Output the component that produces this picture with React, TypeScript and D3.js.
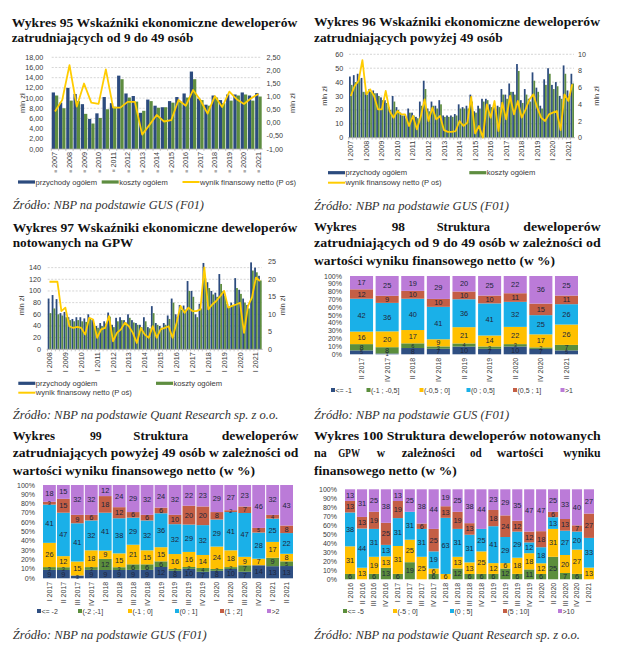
import * as d3 from 'd3'
import React from 'react'

const W = 624
const H = 663
const SANS = "'Liberation Sans', Arial, sans-serif"
const SERIF = "'Liberation Serif', 'Times New Roman', serif"

const BLUE = '#2c4b7e'
const GREEN = '#5e8d40'
const YELLOW = '#ffcc00'
const NAVY = '#2f4f82'
const LGREEN = '#5b8e3c'
const GOLD = '#ffc000'
const CYAN = '#1ab0e8'
const RUST = '#c45e45'
const VIOLET = '#bb7bd8'
const INK = '#3a3a3a'

// Wykres 95: half-years 2007-2021
const w95Years = ['2007', '2008', '2009', '2010', '2011', '2012', '2013', '2014', '2015', '2016', '2017', '2018', '2019', '2020', '2021']
const w95Periods = w95Years.flatMap(y => (y === '2021' ? ['I'] : ['I', 'II']).map(h => `${h} ${y}`))
const w95Revenue = [11.1, 9.1, 12.0, 10.8, 8.8, 5.9, 7.0, 10.2, 9.0, 14.4, 10.9, 10.4, 7.1, 9.7, 8.5, 8.2, 9.4, 10.2, 10.9, 15.2, 9.9, 8.7, 10.5, 9.6, 10.7, 10.7, 11.1, 10.5, 11.0]
const w95Costs = [10.5, 8.0, 9.5, 9.4, 6.9, 5.0, 6.1, 7.8, 8.3, 13.7, 10.1, 9.3, 7.5, 9.4, 8.1, 8.2, 9.1, 9.2, 10.1, 13.7, 9.6, 8.5, 10.1, 9.0, 9.5, 10.5, 10.7, 9.5, 10.3]
const w95Result = [0.43, 0.87, 2.2, 0.62, 1.5, 0.77, 0.72, 2.04, 0.58, 0.58, 0.8, 0.8, -0.45, -0.08, 0.3, 0.05, 0.1, 0.87, 0.65, 1.25, 0.87, 0.35, 1.02, 0.6, 1.19, 0.9, 0.72, 0.94, 1.1]
const w95LeftTicks = [0, 2, 4, 6, 8, 10, 12, 14, 16, 18]
const w95RightTicks = [-1, -0.5, 0, 0.5, 1, 1.5, 2, 2.5]

// Wykres 96: quarters 2007-2021
const quarters = (years: string[]) =>
  years.flatMap(y => (y === '2021' ? ['I', 'II'] : ['I', 'II', 'III', 'IV']).map(q => `${q} ${y}`))
const w96Periods = quarters(w95Years)
const w96Revenue = [44, 45, 46, 43, 33, 35, 34, 32, 29, 27, 22, 30, 22, 18, 16, 21, 18, 15, 26, 41, 21, 26, 23, 27, 16, 16, 16, 17, 24, 22, 23, 31, 19, 23, 28, 28, 24, 22, 23, 35, 31, 39, 33, 53, 27, 35, 28, 47, 36, 23, 42, 50, 38, 40, 30, 52, 34, 46]
const w96Costs = [38, 40, 42, 33, 31, 33, 32, 30, 27, 25, 20, 26, 20, 16, 14, 18, 16, 14, 23, 35, 19, 23, 21, 24, 15, 15, 15, 16, 21, 21, 21, 26, 18, 21, 26, 27, 22, 21, 22, 31, 28, 33, 31, 48, 25, 31, 26, 41, 33, 21, 38, 46, 35, 37, 28, 46, 30, 39]
const w96Result = [5.0, 6.2, 6.8, 9.3, 5.2, 5.8, 5.0, 3.4, 3.4, 5.6, 3.2, 2.4, 3.2, 2.8, 2.8, 1.4, 2.6, 1.0, 2.5, 4.6, 2.0, 3.6, 2.2, 2.6, 0.9, 0.7, 0.7, 0.8, 2.0, 1.4, 1.8, 4.9, 0.5, 1.4, 0.0, 4.0, 2.4, 4.4, 0.8, 4.2, 2.2, 5.0, 2.8, 4.4, 2.4, 3.4, 4.6, 5.2, 3.6, 2.4, 2.0, 2.8, 3.0, 3.2, 0.9, 5.2, 4.4, 6.4]
const w96LeftTicks = [0, 10, 20, 30, 40, 50, 60]
const w96RightTicks = [0, 2, 4, 6, 8, 10]

// Wykres 97: quarters 2008-2021
const w97Periods = quarters(w95Years.slice(1))
const w97Revenue = [87, 93, 86, 62, 64, 55, 52, 55, 55, 53, 60, 50, 40, 45, 48, 63, 42, 54, 55, 50, 60, 50, 45, 42, 55, 38, 74, 45, 40, 45, 58, 87, 60, 76, 75, 117, 100, 60, 78, 148, 115, 100, 97, 129, 100, 78, 80, 122, 102, 87, 76, 149, 140, 126]
const w97Costs = [62, 70, 60, 58, 55, 50, 48, 50, 48, 47, 52, 45, 37, 40, 44, 56, 38, 48, 50, 46, 54, 46, 42, 38, 48, 36, 62, 42, 37, 42, 52, 80, 55, 68, 68, 100, 90, 55, 70, 122, 105, 94, 90, 112, 92, 72, 75, 105, 95, 80, 70, 135, 132, 118]
const w97Result = [19.3, 19.3, 19.3, 10.9, 11.9, 6.6, 6.1, 6.4, 6.1, 4.2, 9.0, 8.5, 3.3, 5.7, 6.1, 9.5, 2.3, 4.7, 5.7, 7.6, 6.6, 4.7, 1.8, 6.1, 4.2, 3.3, 6.6, 3.3, 5.7, 6.1, 6.6, 3.3, 7.5, 12.4, 10.4, 11.9, 10.9, 10.9, 11.4, 23.4, 11.4, 12.8, 13.8, 15.2, 16.7, 11.9, 12.4, 12.8, 13.3, 4.7, 12.4, 14.8, 20.5, 19.5]
const w97LeftTicks = [0, 20, 40, 60, 80, 100, 120, 140]
const w97RightTicks = [0, 5, 10, 15, 20, 25]

// Wykres 98: structure, 9 to 49 employees
const w98Cats = ['II 2017', 'IV 2017', 'II 2018', 'IV 2018', 'II 2019', 'IV 2019', 'II 2020', 'IV 2020', 'II 2021']
const w98Le1 = [5, 1, 8, 7, 10, 7, 10, 7, 5]
const w98M1 = [8, 8, 6, 3, 4, 3, 3, 2, 7]
const w98M05 = [16, 20, 17, 9, 21, 14, 22, 17, 26]
const w98P05 = [42, 36, 40, 41, 36, 41, 32, 25, 26]
const w98P1 = [12, 9, 10, 10, 10, 10, 11, 15, 11]
const w98Gt1 = [17, 25, 19, 29, 20, 25, 22, 36, 25]

// Wykres 99: structure, above 49 employees
const w99Cats = ['I 2017', 'II 2017', 'III 2017', 'IV 2017', 'I 2018', 'II 2018', 'III 2018', 'IV 2018', 'I 2019', 'II 2019', 'III 2019', 'IV 2019', 'I 2020', 'II 2020', 'III 2020', 'IV 2020', 'I 2021', 'II 2021']
const w99Le2 = [9, 9, 3, 9, 9, 9, 9, 9, 12, 8, 10, 7, 8, 10, 7, 14, 13, 13]
const w99M2 = [3, 3, 0, 3, 12, 3, 6, 6, 6, 2, 2, 4, 2, 2, 7, 0, 9, 5]
const w99M1 = [26, 12, 15, 18, 9, 15, 21, 15, 15, 16, 16, 14, 24, 18, 9, 7, 17, 8]
const w99P1 = [41, 47, 41, 32, 41, 38, 29, 32, 36, 32, 29, 32, 29, 41, 47, 28, 25, 22]
const w99P2 = [3, 15, 9, 6, 18, 12, 6, 6, 6, 10, 20, 20, 8, 2, 7, 5, 4, 8]
const w99Gt2 = [18, 15, 32, 32, 12, 24, 29, 32, 24, 32, 22, 23, 29, 27, 23, 46, 32, 43]

// Wykres 100: structure, GPW listed
const w100Cats = ['I 2016', 'II 2016', 'III 2016', 'IV 2016', 'I 2017', 'II 2017', 'III 2017', 'IV 2017', 'I 2018', 'II 2018', 'III 2018', 'IV 2018', 'I 2019', 'II 2019', 'III 2019', 'IV 2019', 'I 2020', 'II 2020', 'III 2020', 'IV 2020', 'I 2021']
const w100Le5 = [6, 0, 6, 13, 6, 19, 0, 6, 0, 12, 6, 6, 6, 12, 6, 11, 6, 25, 7, 6, 0]
const w100M5 = [31, 13, 19, 13, 31, 25, 25, 6, 6, 13, 13, 25, 12, 6, 18, 18, 12, 31, 20, 27, 13]
const w100P5 = [38, 44, 31, 13, 31, 31, 31, 19, 63, 31, 31, 25, 41, 29, 29, 12, 18, 13, 27, 20, 33]
const w100P10 = [13, 13, 19, 25, 19, 0, 6, 25, 13, 19, 13, 0, 18, 24, 12, 12, 18, 6, 13, 7, 27]
const w100Gt10 = [13, 31, 25, 38, 13, 25, 38, 44, 19, 25, 38, 44, 23, 29, 35, 47, 47, 25, 33, 40, 27]

const fmt2 = (v: number) => v.toFixed(2).replace('.', ',')
const fmt0 = (v: number) => String(v)

type ComboProps = {
  periods: string[]
  rev: number[]
  cost: number[]
  res: number[]
  x0: number; x1: number; yT: number; yB: number
  lMax: number; lTicks: number[]; lFmt: (v: number) => string; lLabX: number
  rMin: number; rMax: number; rTicks: number[]; rFmt: (v: number) => string; rLabX: number
  mlnL: number; mlnR: number
  box?: boolean
}

function Combo(p: ComboProps) {
  const x = d3.scaleBand<string>().domain(p.periods).range([p.x0, p.x1]).paddingInner(0.1)
  const yl = d3.scaleLinear().domain([0, p.lMax]).range([p.yB, p.yT])
  const yr = d3.scaleLinear().domain([p.rMin, p.rMax]).range([p.yB, p.yT])
  const half = x.bandwidth() / 2
  const cx = (c: string) => (x(c) ?? 0) + x.bandwidth() / 2
  const path = d3.line<number>().x((_, i) => cx(p.periods[i])).y(v => yr(v))(p.res) ?? ''
  const gap = x.step() * 0.05
  const midY = (p.yT + p.yB) / 2
  return (
    <g fontFamily={SANS} fill={INK}>
      {p.lTicks.filter(t => t > 0).map(t => (
        <line key={'g' + t} x1={p.x0} x2={p.x1} y1={yl(t)} y2={yl(t)} stroke="#c4c4c4" strokeWidth={0.7} strokeDasharray="2,1.5" />
      ))}
      {p.periods.map((c, i) => (
        <g key={c}>
          <rect x={x(c)} y={yl(p.rev[i])} width={half} height={p.yB - yl(p.rev[i])} fill={BLUE} />
          <rect x={(x(c) ?? 0) + half} y={yl(p.cost[i])} width={half} height={p.yB - yl(p.cost[i])} fill={GREEN} />
        </g>
      ))}
      <line x1={p.x0 - 1} x2={p.x1 + 1} y1={p.yB} y2={p.yB} stroke="#a6a6a6" strokeWidth={0.8} />
      {p.periods.map(c => (
        <line key={'t' + c} x1={(x(c) ?? 0) - gap} x2={(x(c) ?? 0) - gap} y1={p.yB} y2={p.yB + 2} stroke="#a6a6a6" strokeWidth={0.6} />
      ))}
      <path d={path} fill="none" stroke={YELLOW} strokeWidth={1.8} strokeLinejoin="round" />
      {p.lTicks.map(t => (
        <text key={'l' + t} x={p.lLabX} y={yl(t)} textAnchor="end" dominantBaseline="central" fontSize={7.2}>{p.lFmt(t)}</text>
      ))}
      {p.rTicks.map(t => (
        <text key={'r' + t} x={p.rLabX} y={yr(t)} dominantBaseline="central" fontSize={7.2}>{p.rFmt(t)}</text>
      ))}
      {p.periods.filter(c => c.startsWith('I ')).map(c => (
        <text key={'x' + c} transform={`translate(${cx(c)},${p.yB + 3}) rotate(-90)`} textAnchor="end" dominantBaseline="central" fontSize={7.2}>
          {p.box ? <><tspan fill="#aaaaaa" fontSize={5}>■</tspan>{' ' + c.slice(2)}</> : c}
        </text>
      ))}
      <text transform={`translate(${p.mlnL},${midY}) rotate(-90)`} textAnchor="middle" dominantBaseline="central" fontSize={7.5}>mln zł</text>
      <text transform={`translate(${p.mlnR},${midY}) rotate(-90)`} textAnchor="middle" dominantBaseline="central" fontSize={7.5}>mln zł</text>
    </g>
  )
}

const comboNames = { rev: 'przychody ogółem', cost: 'koszty ogółem', res: 'wynik finansowy netto (P oś)' }

function ComboLegend({ items }: { items: { kind: 'rev' | 'cost' | 'res'; x: number; y: number }[] }) {
  return (
    <g fontFamily={SANS} fill={INK} fontSize={7.6}>
      {items.map(it => (
        <g key={it.kind}>
          {it.kind === 'res'
            ? <line x1={it.x} x2={it.x + 17} y1={it.y} y2={it.y} stroke={YELLOW} strokeWidth={2} />
            : <rect x={it.x} y={it.y - 1.6} width={17} height={3.2} fill={it.kind === 'rev' ? BLUE : GREEN} />}
          <text x={it.x + 17.5} y={it.y} dominantBaseline="central">{comboNames[it.kind]}</text>
        </g>
      ))}
    </g>
  )
}

type Series = { name: string; color: string; values: number[] }

type StackProps = {
  cats: string[]; series: Series[]
  x0: number; x1: number; yT: number; yB: number; labX: number; pad: number
  legendY: number; legendXs: number[]
}

function Stack(p: StackProps) {
  const keys = p.series.map(s => s.name)
  const rows = p.cats.map((_, i) => {
    const r: Record<string, number> = {}
    p.series.forEach(s => { r[s.name] = s.values[i] })
    return r
  })
  const layers = d3.stack<Record<string, number>>().keys(keys).offset(d3.stackOffsetExpand)(rows)
  const x = d3.scaleBand<string>().domain(p.cats).range([p.x0, p.x1]).paddingInner(p.pad)
  const y = d3.scaleLinear().domain([0, 1]).range([p.yB, p.yT])
  const ticks = y.ticks(10)
  return (
    <g fontFamily={SANS} fill={INK}>
      {layers.map((layer, li) => layer.map((d, i) => (
        <rect key={li + '-' + i} x={x(p.cats[i])} y={y(d[1])} width={x.bandwidth()} height={Math.max(0, y(d[0]) - y(d[1]))} fill={p.series[li].color} />
      )))}
      {layers.map((layer, li) => layer.map((d, i) => {
        const v = p.series[li].values[i]
        if (!v) return null
        const small = y(d[0]) - y(d[1]) < 5
        return (
          <text key={'v' + li + '-' + i} x={(x(p.cats[i]) ?? 0) + x.bandwidth() / 2} y={y((d[0] + d[1]) / 2)} textAnchor="middle" dominantBaseline="central" fontSize={small ? 5.6 : 7.4} fill="#20263a">{v}</text>
        )
      }))}
      {ticks.map(t => (
        <text key={'y' + t} x={p.labX} y={y(t)} textAnchor="end" dominantBaseline="central" fontSize={7}>{Math.round(t * 100)}%</text>
      ))}
      {p.cats.map(c => (
        <text key={'x' + c} transform={`translate(${(x(c) ?? 0) + x.bandwidth() / 2},${p.yB + 3.5}) rotate(-90)`} textAnchor="end" dominantBaseline="central" fontSize={7}>{c}</text>
      ))}
      {p.series.map((s, i) => (
        <g key={'lg' + s.name}>
          <rect x={p.legendXs[i]} y={p.legendY - 2} width={4} height={4} fill={s.color} />
          <text x={p.legendXs[i] + 4.5} y={p.legendY} dominantBaseline="central" fontSize={7}>{s.name}</text>
        </g>
      ))}
    </g>
  )
}

function TLine({ x0, x1, y, children }: { x0: number; x1: number; y: number; children: string }) {
  return (
    <text x={x0} y={y} textLength={x1 - x0} lengthAdjust="spacingAndGlyphs" fontFamily={SERIF} fontWeight="bold" fontSize={13.2} fill="#111">{children}</text>
  )
}

function Words({ y, words }: { y: number; words: [string, number, number][] }) {
  return <g>{words.map(([w, a, b]) => <TLine key={w + a} x0={a} x1={b} y={y}>{w}</TLine>)}</g>
}

function Source({ x0, x1, y, children }: { x0: number; x1: number; y: number; children: string }) {
  return (
    <text x={x0} y={y} textLength={x1 - x0} lengthAdjust="spacingAndGlyphs" fontFamily={SERIF} fontStyle="italic" fontSize={12.3} fill="#333">{children}</text>
  )
}

export default function App() {
  return (
    <svg width={W} height={H} viewBox={`0 0 ${W} ${H}`} style={{ position: 'absolute', left: 0, top: 0, background: '#fff' }}>
      <rect width={W} height={H} fill="#fff" />

      {/* Wykres 95 */}
      <TLine x0={11.7} x1={297.3} y={26.5}>Wykres 95 Wskaźniki ekonomiczne deweloperów</TLine>
      <TLine x0={11.7} x1={193.3} y={42}>zatrudniających od 9 do 49 osób</TLine>
      <Combo periods={w95Periods} rev={w95Revenue} cost={w95Costs} res={w95Result}
        x0={51.7} x1={261.7} yT={57.3} yB={149}
        lMax={18} lTicks={w95LeftTicks} lFmt={fmt2} lLabX={43.3}
        rMin={-1} rMax={2.5} rTicks={w95RightTicks} rFmt={fmt2} rLabX={266.5}
        mlnL={22} mlnR={292} box />
      <ComboLegend items={[{ kind: 'rev', x: 18, y: 182 }, { kind: 'cost', x: 101.7, y: 182 }, { kind: 'res', x: 182.5, y: 182 }]} />
      <Source x0={12.7} x1={204} y={209}>Źródło: NBP na podstawie GUS (F01)</Source>

      {/* Wykres 96 */}
      <TLine x0={314} x1={600} y={26}>Wykres 96 Wskaźniki ekonomiczne deweloperów</TLine>
      <TLine x0={314} x1={502.7} y={41.5}>zatrudniających powyżej 49 osób</TLine>
      <Combo periods={w96Periods} rev={w96Revenue} cost={w96Costs} res={w96Result}
        x0={349} x1={574} yT={54.3} yB={137.7}
        lMax={60} lTicks={w96LeftTicks} lFmt={fmt0} lLabX={343.3}
        rMin={0} rMax={10} rTicks={w96RightTicks} rFmt={fmt0} rLabX={578}
        mlnL={324} mlnR={596} />
      <ComboLegend items={[{ kind: 'rev', x: 328, y: 172.7 }, { kind: 'cost', x: 469.3, y: 172.7 }, { kind: 'res', x: 328, y: 182.7 }]} />
      <Source x0={314} x1={509} y={209.5}>Źródło: NBP na podstawie GUS (F01)</Source>

      {/* Wykres 97 */}
      <TLine x0={12.7} x1={297.3} y={232}>Wykres 97 Wskaźniki ekonomiczne deweloperów</TLine>
      <TLine x0={12.7} x1={133.3} y={247}>notowanych na GPW</TLine>
      <Combo periods={w97Periods} rev={w97Revenue} cost={w97Costs} res={w97Result}
        x0={47.7} x1={261.7} yT={261.8} yB={349.3}
        lMax={150} lTicks={w97LeftTicks} lFmt={fmt0} lLabX={41}
        rMin={0} rMax={25} rTicks={w97RightTicks} rFmt={fmt0} rLabX={268}
        mlnL={21.7} mlnR={282.7} />
      <ComboLegend items={[{ kind: 'rev', x: 18.3, y: 383.3 }, { kind: 'cost', x: 156, y: 383.3 }, { kind: 'res', x: 18.3, y: 392.7 }]} />
      <Source x0={12.7} x1={278.3} y={418.5}>Źródło: NBP na podstawie Quant Research sp. z o.o.</Source>

      {/* Wykres 98 */}
      <Words y={230.5} words={[['Wykres', 314, 356.7], ['98', 391.7, 405], ['Struktura', 436.7, 490], ['deweloperów', 523.3, 600.7]]} />
      <TLine x0={314} x1={600.7} y={247}>zatrudniających od 9 do 49 osób w zależności od</TLine>
      <TLine x0={314} x1={555} y={265}>wartości wyniku finansowego netto (w %)</TLine>
      <Stack cats={w98Cats}
        series={[
          { name: '<= -1', color: NAVY, values: w98Le1 },
          { name: '(-1 ; -0,5]', color: LGREEN, values: w98M1 },
          { name: '(-0,5 ; 0]', color: GOLD, values: w98M05 },
          { name: '(0 ; 0,5]', color: CYAN, values: w98P05 },
          { name: '(0,5 ; 1]', color: RUST, values: w98P1 },
          { name: '>1', color: VIOLET, values: w98Gt1 },
        ]}
        x0={350} x1={578} yT={276} yB={354.3} labX={342} pad={0.1}
        legendY={390} legendXs={[331, 366.5, 419.5, 466.5, 513, 560.5]} />
      <Source x0={314} x1={509.3} y={418.5}>Źródło: NBP na podstawie GUS (F01)</Source>

      {/* Wykres 99 */}
      <Words y={440} words={[['Wykres', 12.7, 55], ['99', 90, 101.7], ['Struktura', 133.3, 188.3], ['deweloperów', 221.7, 298.3]]} />
      <TLine x0={12.7} x1={298.3} y={457}>zatrudniających powyżej 49 osób w zależności od</TLine>
      <TLine x0={12.7} x1={255} y={475}>wartości wyniku finansowego netto (w %)</TLine>
      <Stack cats={w99Cats}
        series={[
          { name: '<= -2', color: NAVY, values: w99Le2 },
          { name: '(-2 ;-1]', color: LGREEN, values: w99M2 },
          { name: '(-1 ; 0]', color: GOLD, values: w99M1 },
          { name: '(0 ; 1]', color: CYAN, values: w99P1 },
          { name: '(1 ; 2]', color: RUST, values: w99P2 },
          { name: '>2', color: VIOLET, values: w99Gt2 },
        ]}
        x0={43} x1={293} yT={485} yB={578.3} labX={35} pad={0.08}
        legendY={611} legendXs={[37, 78, 128, 175, 220, 267]} />
      <Source x0={12.7} x1={206.7} y={639}>Źródło: NBP na podstawie GUS (F01)</Source>

      {/* Wykres 100 */}
      <TLine x0={314} x1={600.7} y={440}>Wykres 100 Struktura deweloperów notowanych</TLine>
      <Words y={457} words={[['na', 314, 326.7], ['GPW', 338.3, 360], ['w', 376.7, 385], ['zależności', 401.7, 455], ['od', 470, 481.7], ['wartości', 496.7, 543.3], ['wyniku', 563.3, 600.7]]} />
      <TLine x0={314} x1={456.7} y={475}>finansowego netto (w %)</TLine>
      <Stack cats={w100Cats}
        series={[
          { name: '<= -5', color: LGREEN, values: w100Le5 },
          { name: '(-5 ; 0]', color: GOLD, values: w100M5 },
          { name: '(0 ; 5]', color: CYAN, values: w100P5 },
          { name: '(5 ; 10]', color: RUST, values: w100P10 },
          { name: '>10', color: VIOLET, values: w100Gt10 },
        ]}
        x0={345} x1={594} yT={489.3} yB={579.3} labX={337} pad={0.15}
        legendY={611} legendXs={[343, 393, 450, 503, 558]} />
      <Source x0={314} x1={580} y={639}>Źródło: NBP na podstawie Quant Research sp. z o.o.</Source>
    </svg>
  )
}
